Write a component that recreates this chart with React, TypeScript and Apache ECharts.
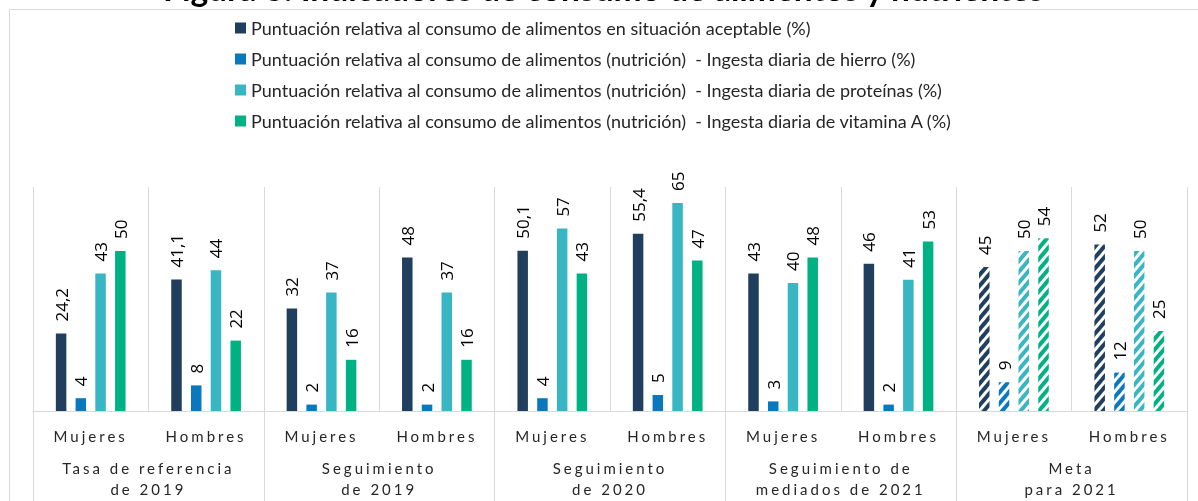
import React, { useEffect, useRef } from "react";
import * as echarts from "echarts";

const categories = ["Mujeres", "Hombres", "Mujeres", "Hombres", "Mujeres", "Hombres", "Mujeres", "Hombres", "Mujeres", "Hombres"];
const groups = ["Tasa de referencia\nde 2019", "Seguimiento\nde 2019", "Seguimiento\nde 2020", "Seguimiento de\nmediados de 2021", "Meta\npara 2021"];
const seriesNames = [
  "Puntuación relativa al consumo de alimentos en situación aceptable (%)",
  "Puntuación relativa al consumo de alimentos (nutrición)  - Ingesta diaria de hierro (%)",
  "Puntuación relativa al consumo de alimentos (nutrición)  - Ingesta diaria de proteínas (%)",
  "Puntuación relativa al consumo de alimentos (nutrición)  - Ingesta diaria de vitamina A (%)",
];
const aceptable = [24.2, 41.1, 32, 48, 50.1, 55.4, 43, 46, 45, 52];
const hierro = [4, 8, 2, 2, 4, 5, 3, 2, 9, 12];
const proteinas = [43, 44, 37, 37, 57, 65, 40, 41, 50, 50];
const vitaminaA = [50, 22, 16, 16, 43, 47, 48, 53, 54, 25];
const hatched = [false, false, false, false, false, false, false, false, true, true];
const colors = ["#203F5F", "#0A78BD", "#38B6C4", "#00B184"];
const title = "Figura 3: Indicadores de consumo de alimentos y nutrientes";

const gridColor = "#D9D9D9";

export default function App() {
  const ref = useRef<HTMLDivElement>(null);
  useEffect(() => {
    if (!ref.current) return;
    const chart = echarts.init(ref.current, null, { renderer: "svg" });
    const allSeries = [aceptable, hierro, proteinas, vitaminaA];
    const series = allSeries.map((vals, si) => ({
      name: seriesNames[si],
      type: "bar",
      xAxisIndex: 0,
      barWidth: 10.5,
      barGap: "88%",
      itemStyle: { color: colors[si] },
      label: {
        show: true,
        position: "top",
        rotate: 90,
        align: "left",
        verticalAlign: "middle",
        distance: 12,
        fontFamily: "Open Sans",
        fontSize: 17,
        color: "#000",
        formatter: (p: any) => String(p.value).replace(".", ","),
      },
      data: vals.map((v, i) =>
        hatched[i]
          ? {
              value: v,
              itemStyle: {
                color: "#ffffff",
                decal: {
                  symbol: "rect",
                  symbolSize: 1,
                  dashArrayX: [1, 0],
                  dashArrayY: [4, 3],
                  rotation: -0.87,
                  color: colors[si],
                },
              },
            }
          : v
      ),
    }));
    chart.setOption({
      animation: false,
      color: colors,
      title: {
        text: title,
        left: 163,
        top: -29,
        padding: 0,
        textStyle: { fontFamily: "Lato", fontWeight: "bold", fontSize: 33.5, color: "#000" },
      },
      legend: {
        orient: "vertical",
        left: 230,
        top: 14,
        itemWidth: 11,
        itemHeight: 11,
        itemGap: 13,
        icon: "rect",
        textStyle: { fontFamily: "Lato", fontSize: 18, lineHeight: 17, color: "#262626" },
        data: seriesNames,
      },
      grid: { left: 33, right: 11, top: 187, bottom: 90, containLabel: false },
      xAxis: [
        {
          type: "category",
          data: categories,
          position: "bottom",
          axisLine: { show: true, lineStyle: { color: gridColor } },
          axisTick: { show: false },
          axisLabel: { interval: 0, margin: 17, fontFamily: "Lato", fontSize: 15, color: "#262626" },
          splitLine: { show: true, interval: 0, lineStyle: { color: gridColor } },
        },
        {
          type: "category",
          data: groups,
          position: "bottom",
          axisLine: { show: false },
          axisTick: { show: true, interval: 0, length: 92, lineStyle: { color: gridColor } },
          axisLabel: { interval: 0, margin: 46, fontFamily: "Lato", fontSize: 15, lineHeight: 21, color: "#262626" },
          splitLine: { show: false },
        },
      ],
      yAxis: { type: "value", min: 0, max: 70, show: false, splitLine: { show: false } },
      graphic: [
        { type: "line", shape: { x1: 9.5, y1: 9.5, x2: 1198, y2: 9.5 }, style: { stroke: gridColor, lineWidth: 1 } },
        { type: "line", shape: { x1: 9.5, y1: 9.5, x2: 9.5, y2: 501 }, style: { stroke: gridColor, lineWidth: 1 } },
      ],
      series,
    });
    const spacedLines = new Set<string>();
    categories.forEach((c) => spacedLines.add(c));
    groups.forEach((g) => g.split("\n").forEach((l) => spacedLines.add(l)));
    const applySpacing = () => {
      ref.current?.querySelectorAll("text").forEach((t) => {
        const txt = (t.textContent || "").trim();
        if (spacedLines.has(txt)) (t as SVGTextElement).style.letterSpacing = "3px";
      });
    };
    applySpacing();
    chart.on("finished", applySpacing);
    return () => chart.dispose();
  }, []);
  return <div ref={ref} style={{ position: "fixed", left: 0, top: 0, width: 1198, height: 501 }} />;
}
